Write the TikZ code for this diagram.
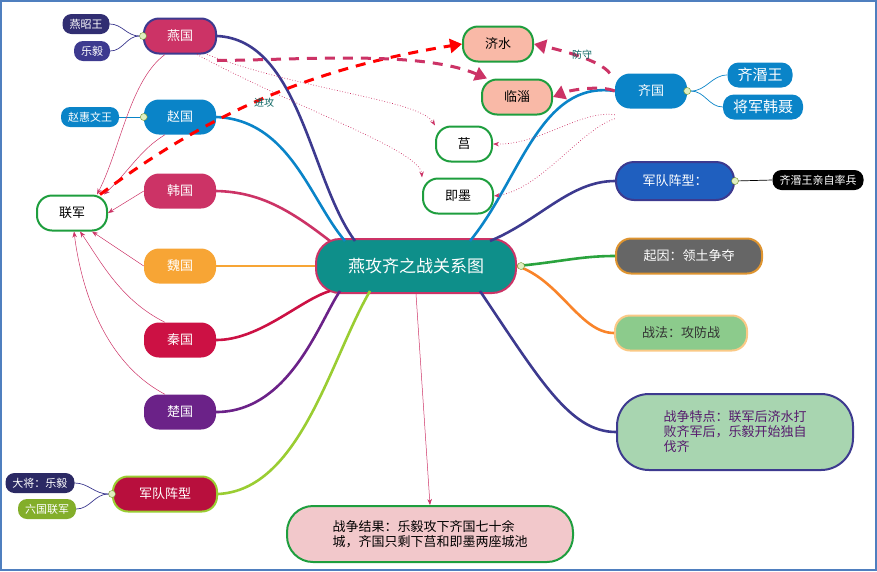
\documentclass[tikz,border=0pt]{standalone}
\usepackage{fontspec}
\newfontfamily\cjk{Noto Sans CJK SC}
\usetikzlibrary{arrows.meta}
\definecolor{yanmag}{HTML}{CC3366}
\definecolor{navy}{HTML}{3D3A8F}
\definecolor{zhaoblue}{HTML}{0A84C8}
\definecolor{weiorg}{HTML}{F7A535}
\definecolor{qinred}{HTML}{CC1144}
\definecolor{chupur}{HTML}{6B2288}
\definecolor{lime}{HTML}{9ACD32}
\definecolor{teal2}{HTML}{0E8F8A}
\definecolor{salm}{HTML}{F9B9A7}
\definecolor{grn}{HTML}{1E9E3E}
\tikzset{
  box/.style={rounded corners=15pt,minimum height=35pt,inner xsep=10pt,text=white,font=\cjk\fontsize{13}{15}\selectfont},
  leaf/.style={rounded corners=9pt,minimum height=20pt,inner xsep=7pt,text=white,font=\cjk\fontsize{11}{13}\selectfont},
  place/.style={box,draw=grn,line width=2pt,text=black,minimum width=70pt},
  branch/.style={line width=2.6pt},
  twig/.style={line width=0.7pt},
  tolian/.style={draw=yanmag,line width=0.5pt,-{Stealth[length=6pt]}},
  dotarr/.style={draw=yanmag,line width=0.7pt,dotted,-{Stealth[length=6pt]}},
  dasharr/.style={line width=3pt,dash pattern=on 10pt off 8pt,-{Triangle[length=12pt,width=14pt]}},
  knob/.style={circle,draw=lime!70!black,fill=lime!30,inner sep=0pt,minimum size=7pt}
}
\begin{document}
\begin{tikzpicture}[x=1pt,y=-1pt]
\useasboundingbox (0,0) rectangle (877,571);
\draw[color={rgb,255:red,79;green,127;blue,191},line width=2pt] (1,1) rectangle (876,570);

% centre
\node[box,fill=teal2,draw=yanmag,line width=2pt,minimum width=200pt,minimum height=54pt,rounded corners=24pt,font=\cjk\fontsize{17}{19}\selectfont] (main) at (416,266) {燕攻齐之战关系图};
\coordinate (mtl) at (345,241);
\coordinate (mtr) at (490,241);
\coordinate (mbl) at (345,291);
\coordinate (mbr) at (480,291);

% left states
\node[box,fill=yanmag,draw=navy,line width=2pt,minimum width=72pt] (yan) at (180,36) {燕国};
\node[box,fill=zhaoblue,minimum width=72pt] (zhao) at (180,117) {赵国};
\node[box,fill=yanmag,minimum width=72pt] (han) at (180,191) {韩国};
\node[box,fill=weiorg,minimum width=72pt] (wei) at (180,266) {魏国};
\node[box,fill=qinred,minimum width=72pt] (qin) at (180,340) {秦国};
\node[box,fill=chupur,minimum width=72pt] (chu) at (180,412) {楚国};
\node[box,fill=qinred!90!black,draw=lime,line width=2pt,minimum width=104pt] (jdl) at (165,494) {军队阵型};
\node[place,fill=white] (lj) at (72,213) {联军};

\node[leaf,fill=navy!80!black] (zw) at (86,24) {燕昭王};
\node[leaf,fill=navy] (ly) at (92,51) {乐毅};
\node[leaf,fill=zhaoblue] (zh) at (90,117) {赵惠文王};
\node[leaf,fill=navy!70!black] (dj) at (40,483) {大将：乐毅};
\node[leaf,fill=lime!85!black] (ll) at (47,509) {六国联军};

% right side
\node[place,fill=salm] (js) at (498,44) {济水};
\node[place,fill=salm] (lz) at (517,97) {临淄};
\node[place,fill=white,minimum width=56pt] (ju) at (464,144) {莒};
\node[place,fill=white] (jm) at (458,196) {即墨};
\node[box,fill=zhaoblue,minimum width=72pt] (qi) at (651,91) {齐国};
\node[box,fill=zhaoblue,rounded corners=11pt,minimum height=25pt,font=\cjk\fontsize{15}{17}\selectfont] (qmw) at (760,75) {齐湣王};
\node[box,fill=zhaoblue,rounded corners=11pt,minimum height=25pt,font=\cjk\fontsize{15}{17}\selectfont] (hn) at (763,107) {将军韩聂};
\node[box,fill={rgb,255:red,31;green,95;blue,191},draw=navy,line width=2pt,minimum width=118pt,minimum height=38pt,rounded corners=18pt] (rjd) at (675,181) {军队阵型：};
\node[leaf,fill=black] (zq) at (818,180) {齐湣王亲自率兵};
\node[box,fill=gray!80!black,draw=weiorg!90!black,line width=2pt,minimum width=146pt] (qy) at (689,256) {起因：领土争夺};
\node[box,fill={rgb,255:red,140;green,203;blue,140},draw=weiorg!60,line width=2pt,text=black!80,minimum width=132pt] (zf) at (681,333) {战法：攻防战};
\node[box,fill={rgb,255:red,168;green,213;blue,176},draw=navy,line width=2pt,text=chupur!80!black,minimum width=236pt,minimum height=76pt,rounded corners=32pt,align=left] (td) at (735,432) {战争特点：联军后济水打\\败齐军后，乐毅开始独自\\伐齐};
\node[box,fill={rgb,255:red,242;green,200;blue,203},draw=grn,line width=2pt,text=black,minimum width=286pt,minimum height=56pt,rounded corners=26pt,align=left] (jg) at (430,534) {战争结果：乐毅攻下齐国七十余\\城，齐国只剩下莒和即墨两座城池};

% branches
\draw[branch,navy] (yan.east) .. controls (300,40) and (310,180) .. ([xshift=10pt]mtl);
\draw[branch,zhaoblue] (zhao.east) .. controls (290,120) and (310,200) .. (mtl);
\draw[branch,yanmag] (han.east) .. controls (260,192) and (290,210) .. ([xshift=-15pt]mtl);
\draw[branch,weiorg] (wei.east) -- (main.west);
\draw[branch,qinred] (qin.east) .. controls (260,340) and (300,300) .. ([xshift=-15pt]mbl);
\draw[branch,chupur] (chu.east) .. controls (290,412) and (320,320) .. ([xshift=-5pt]mbl);
\draw[branch,lime] (jdl.east) .. controls (300,490) and (330,360) .. ([xshift=25pt]mbl);
\draw[branch,zhaoblue] (qi.west) .. controls (540,80) and (520,180) .. ([xshift=-20pt]mtr);
\draw[branch,navy] (rjd.west) .. controls (570,181) and (540,220) .. (mtr);
\draw[branch,grn!90!lime] (main.east) .. controls (560,262) and (580,256) .. (qy.west);
\draw[branch,weiorg!80!red] (main.east) .. controls (560,280) and (580,333) .. (zf.west);
\draw[branch,navy] (mbr) .. controls (540,380) and (570,432) .. (td.west);
\draw[tolian] (main.south) -- (jg.north);

% twigs
\node[knob] (k1) at (yan.west) {}; \node[knob] (k2) at (zhao.west) {};
\node[knob] (k3) at (jdl.west) {}; \node[knob] (k4) at (qi.east) {};
\node[knob] (k5) at (rjd.east) {}; \node[knob,xshift=4pt] (k6) at (main.east) {};
\draw[twig,navy] (k1) to[out=180,in=0] (zw.east); \draw[twig,navy] (k1) to[out=180,in=0] (ly.east);
\draw[twig,zhaoblue] (k2) -- (zh.east);
\draw[twig,navy] (k3) to[out=180,in=0] (dj.east); \draw[twig,navy] (k3) to[out=180,in=0] (ll.east);
\draw[twig,zhaoblue] (k4) to[out=0,in=180] (qmw.west); \draw[twig,zhaoblue] (k4) to[out=0,in=180] (hn.west);
\draw[twig,black] (k5) -- (zq.west);

% to 联军
\draw[tolian] ([xshift=-15pt]yan.south) .. controls (130,80) and (120,150) .. ([xshift=25pt]lj.north);
\draw[tolian] ([xshift=-15pt]zhao.south) .. controls (140,150) and (130,170) .. ([xshift=32pt]lj.north);
\draw[tolian] (han.west) -- (lj.east);
\draw[tolian] (wei.west) -- ([xshift=20pt]lj.south);
\draw[tolian] ([xshift=-15pt]qin.north) .. controls (120,300) and (100,260) .. ([xshift=8pt]lj.south);
\draw[tolian] ([xshift=-15pt]chu.north) .. controls (100,360) and (80,280) .. ([xshift=2pt]lj.south);

% attack / defence
\draw[dasharr,red] ([xshift=28pt]lj.north) .. controls (200,120) and (300,70) .. (js.west);
\node[text=teal2!70!black,font=\cjk\fontsize{10}{12}\selectfont] (jg1) at (264,103) {进攻};
\draw[dasharr,yanmag] ([yshift=-6pt]yan.south east) .. controls (300,60) and (420,50) .. ([xshift=6pt]lz.north west);
\draw[dasharr,yanmag] ([xshift=-5pt]qi.north west) .. controls (600,60) and (560,50) .. (js.east);
\node[text=teal2!70!black,font=\cjk\fontsize{10}{12}\selectfont] (fs1) at (582,55) {防守};
\draw[dasharr,yanmag] (qi.west) .. controls (600,85) and (570,90) .. (lz.east);
\draw[dotarr] ([xshift=-10pt]yan.south east) .. controls (300,90) and (420,100) .. (ju.north west);
\draw[dotarr] ([xshift=-20pt]yan.south east) .. controls (300,110) and (420,150) .. (jm.north west);
\draw[dotarr] ([yshift=-6pt]qi.south west) .. controls (580,110) and (540,145) .. (ju.east);
\draw[dotarr] ([yshift=-10pt]qi.south west) .. controls (580,130) and (540,190) .. (jm.east);
\end{tikzpicture}
\end{document}
